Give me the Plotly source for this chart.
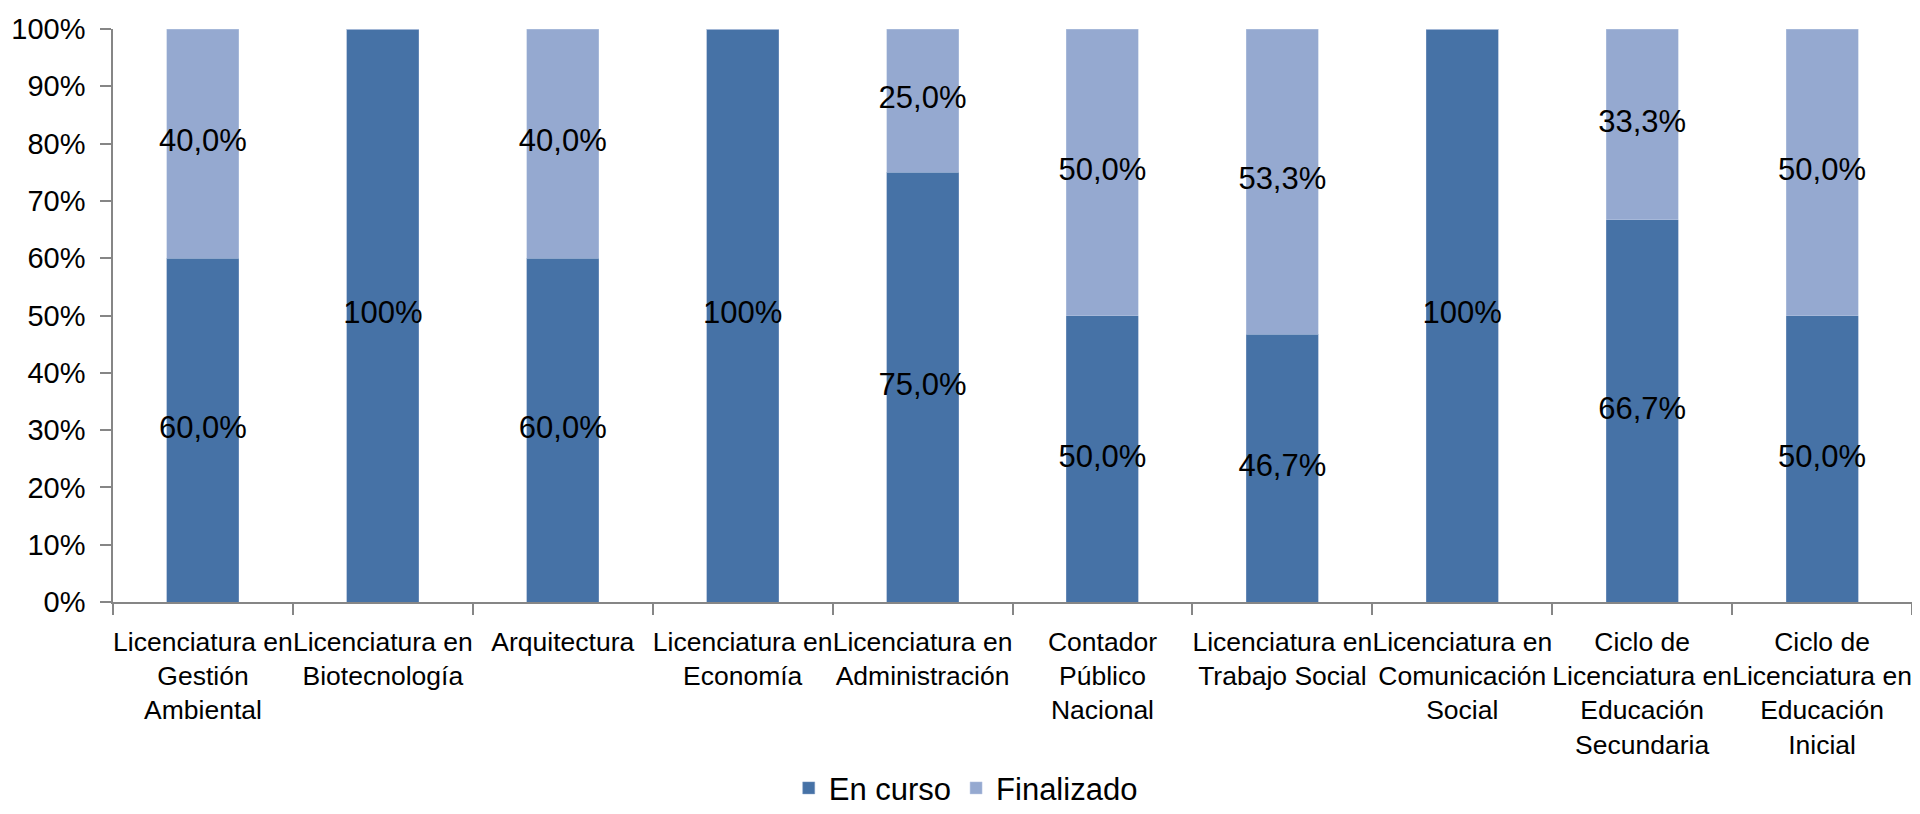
import plotly.graph_objects as go

categories = [
    "Licenciatura en<br>Gestión<br>Ambiental",
    "Licenciatura en<br>Biotecnología",
    "Arquitectura",
    "Licenciatura en<br>Economía",
    "Licenciatura en<br>Administración",
    "Contador<br>Público<br>Nacional",
    "Licenciatura en<br>Trabajo Social",
    "Licenciatura en<br>Comunicación<br>Social",
    "Ciclo de<br>Licenciatura en<br>Educación<br>Secundaria",
    "Ciclo de<br>Licenciatura en<br>Educación<br>Inicial",
]
en_curso = [60.0, 100.0, 60.0, 100.0, 75.0, 50.0, 46.7, 100.0, 66.7, 50.0]
finalizado = [40.0, 0.0, 40.0, 0.0, 25.0, 50.0, 53.3, 0.0, 33.3, 50.0]
y_ticks = [0, 10, 20, 30, 40, 50, 60, 70, 80, 90, 100]

FONT = "Liberation Sans Narrow, Arial Narrow, Liberation Sans, Arial, sans-serif"
C_DARK = "#4672A6"
C_LIGHT = "#95A9D0"


def fmt(v):
    if v >= 100:
        return "100%"
    return f"{v:.1f}%".replace(".", ",")


fig = go.Figure()
fig.add_trace(go.Bar(name="En curso", x=categories, y=en_curso,
                     marker=dict(color=C_DARK, line=dict(color="#7f9cc4", width=0.5))))
fig.add_trace(go.Bar(name="Finalizado", x=categories, y=finalizado,
                     marker=dict(color=C_LIGHT, line=dict(color="#b8c7e2", width=0.5))))

# data labels at segment centers
lx, ly, lt = [], [], []
for c, a, b in zip(categories, en_curso, finalizado):
    if a > 0:
        lx.append(c); ly.append(a / 2); lt.append(fmt(a))
    if b > 0:
        lx.append(c); ly.append(a + b / 2); lt.append(fmt(b))
fig.add_trace(go.Scatter(x=lx, y=ly, text=lt, mode="text", showlegend=False,
                         textfont=dict(family=FONT, size=31, color="black"),
                         hoverinfo="skip"))

fig.update_layout(
    barmode="stack",
    bargap=0.6,
    plot_bgcolor="white",
    paper_bgcolor="white",
    font=dict(family=FONT, color="black"),
    margin=dict(l=105, r=0, t=21, b=204, autoexpand=False),
    legend=dict(orientation="h", x=0.474, xanchor="center", y=-0.325, yanchor="middle",
                font=dict(family=FONT, size=31), traceorder="normal",
                itemwidth=30),
)
fig.update_xaxes(
    type="category",
    automargin=False,
    tickangle=0,
    showline=True, linecolor="#868686", linewidth=1.5,
    ticks="outside", tickson="boundaries", ticklen=11, tickcolor="#868686", tickwidth=1.5,
    tickfont=dict(family=FONT, size=26.5, color="black"),
    ticklabelstandoff=15,
    showgrid=False,
)
fig.update_yaxes(
    automargin=False,
    range=[0, 100],
    tickvals=y_ticks, ticktext=[f"{v}%" for v in y_ticks],
    showline=True, linecolor="#868686", linewidth=1.5,
    ticks="outside", ticklen=11, tickcolor="#868686", tickwidth=1.5,
    tickfont=dict(family=FONT, size=29, color="black"),
    ticklabelstandoff=9,
    showgrid=False, zeroline=False,
)

fig.write_html("out.html")
